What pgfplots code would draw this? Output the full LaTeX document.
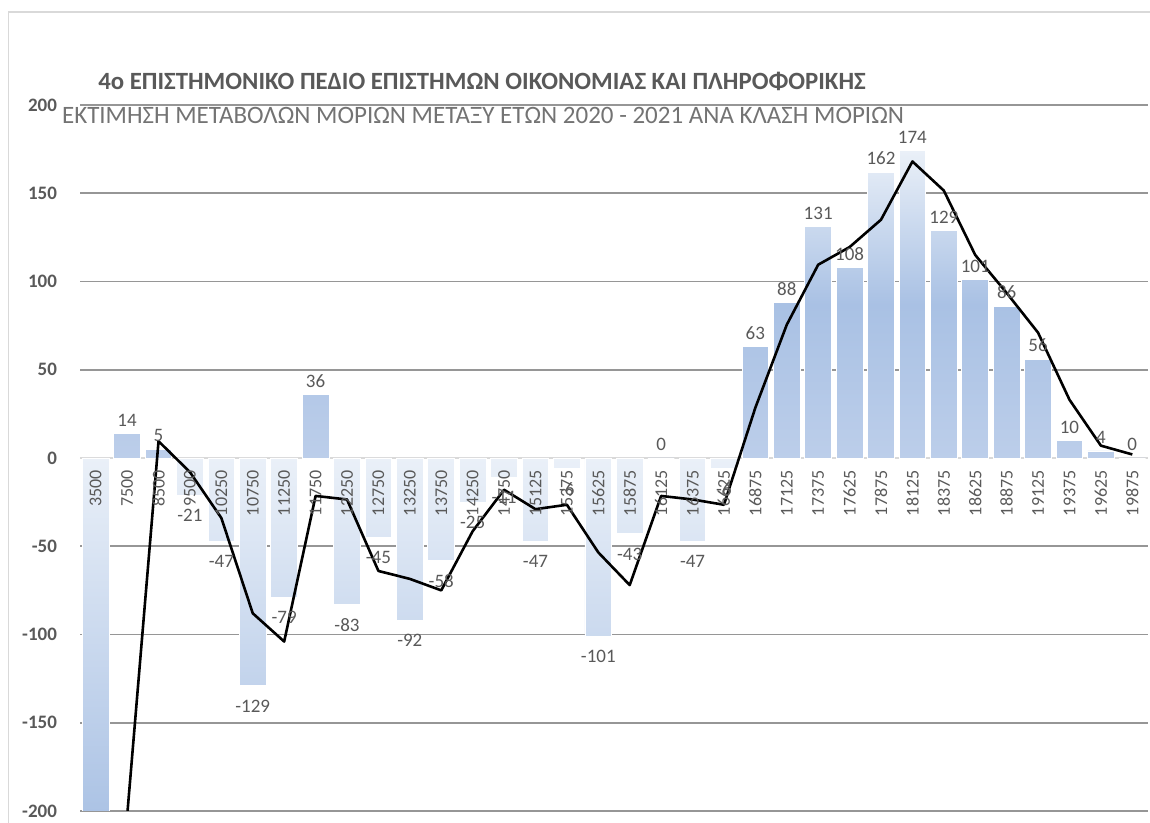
\documentclass[border=0pt]{standalone}
\usepackage{fontspec}
\setmainfont{Carlito}
\usepackage{pgfplots}
\usepackage{pgfplotstable}
\pgfplotsset{compat=1.18}
\definecolor{txt}{HTML}{595959}
\definecolor{subc}{HTML}{737373}
\definecolor{gridc}{HTML}{969696}
\definecolor{zeroc}{HTML}{D9D9D9}
\definecolor{barlight}{HTML}{EAF0F8}
\definecolor{barmid}{HTML}{A9C1E4}
\definecolor{bardark}{HTML}{BCCEEA}

\pgfplotstableread{
x y lab
0 -420 {}
1 14 14
2 5 5
3 -21 -21
4 -47 -47
5 -129 -129
6 -79 -79
7 36 36
8 -83 -83
9 -45 -45
10 -92 -92
11 -58 -58
12 -25 -25
13 -11 -11
14 -47 -47
15 -6 -6
16 -101 -101
17 -43 -43
18 0 0
19 -47 -47
20 -6 -6
21 63 63
22 88 88
23 131 131
24 108 108
25 162 162
26 174 174
27 129 129
28 101 101
29 86 86
30 56 56
31 10 10
32 4 4
33 0 0
}\bardata

\pgfplotstableread{
x y cat
0 0 3500
1 0 7500
2 0 8500
3 0 9500
4 0 10250
5 0 10750
6 0 11250
7 0 11750
8 0 12250
9 0 12750
10 0 13250
11 0 13750
12 0 14250
13 0 14750
14 0 15125
15 0 15375
16 0 15625
17 0 15875
18 0 16125
19 0 16375
20 0 16625
21 0 16875
22 0 17125
23 0 17375
24 0 17625
25 0 17875
26 0 18125
27 0 18375
28 0 18625
29 0 18875
30 0 19125
31 0 19375
32 0 19625
33 0 19875
}\cats

\pgfplotstableread{
x m
1 -203
2 9.5
3 -8
4 -34
5 -88
6 -104
7 -21.5
8 -23.5
9 -64
10 -68.5
11 -75
12 -41.5
13 -18
14 -29
15 -26.5
16 -53.5
17 -72
18 -21.5
19 -23.5
20 -26.5
21 28.5
22 75.5
23 109.5
24 119.5
25 135
26 168
27 151.5
28 115
29 93.5
30 71
31 33
32 7
33 2
}\linedata

\begin{document}
\begin{tikzpicture}
\useasboundingbox (0,0) rectangle (575pt,411.5pt);
\draw[zeroc, line width=0.75pt] (4.25pt,0pt) -- (4.25pt,405.6pt) -- (575pt,405.6pt);
\begin{axis}[
  at={(40pt,6pt)}, anchor=south west,
  scale only axis, width=534pt, height=353pt,
  xmin=-0.5, xmax=33.5, ymin=-200, ymax=200,
  axis x line=middle, axis y line=left,
  x axis line style={draw=zeroc, line width=1.3pt, -},
  y axis line style={draw=none},
  hide obscured x ticks=false, hide obscured y ticks=false,
  ytick={-200,-150,...,200},
  xtick=\empty,
  major tick length=0pt,
  ymajorgrids, grid style={draw=gridc, line width=0.9pt},
  /pgf/number format/assume math mode=true,
  /pgf/number format/set thousands separator={},
  yticklabel style={font=\bfseries\fontsize{9.5}{11}\selectfont, text=txt, xshift=-8pt},
]
\addplot[ybar, bar width=0.85, bar shift=0pt, draw=white, line width=0.4pt,
  top color=barlight, bottom color=bardark, middle color=barmid,
  restrict y to domain=-0.1:1000,
  point meta=explicit symbolic, nodes near coords,
  every node near coord/.append style={font=\fontsize{9.5}{11}\selectfont, text=txt, anchor=south}]
  table[x=x, y=y, meta=lab] {\bardata};
\addplot[ybar, bar width=0.85, bar shift=0pt, draw=white, line width=0.4pt,
  top color=barlight, bottom color=bardark, middle color=barmid,
  restrict y to domain=-1000:-0.5,
  point meta=explicit symbolic, nodes near coords,
  every node near coord/.append style={font=\fontsize{9.5}{11}\selectfont, text=txt, anchor=north, yshift=-3.5pt}]
  table[x=x, y=y, meta=lab] {\bardata};
\addplot[draw=none, mark=none, point meta=explicit symbolic, nodes near coords,
  every node near coord/.append style={font=\fontsize{9}{10}\selectfont, text=txt,
    yshift=-6pt, rotate=90, anchor=east, inner sep=0pt}]
  table[x=x, y=y, meta=cat] {\cats};
\addplot[black, line width=1.3pt, line join=round, mark=none, sharp plot]
  table[x=x, y=m] {\linedata};
\end{axis}
\node[anchor=base, font=\bfseries\fontsize{12.4}{14}\selectfont, text=txt] at (241pt,366.5pt) {4o ΕΠΙΣΤΗΜΟΝΙΚΟ ΠΕΔΙΟ ΕΠΙΣΤΗΜΩΝ ΟΙΚΟΝΟΜΙΑΣ ΚΑΙ ΠΛΗΡΟΦΟΡΙΚΗΣ};
\node[anchor=base, font=\fontsize{12.5}{14}\selectfont, text=subc] at (241.5pt,349.5pt) {ΕΚΤΙΜΗΣΗ ΜΕΤΑΒΟΛΩΝ ΜΟΡΙΩΝ ΜΕΤΑΞΥ ΕΤΩΝ 2020 - 2021 ΑΝΑ ΚΛΑΣΗ ΜΟΡΙΩΝ};
\end{tikzpicture}
\end{document}
